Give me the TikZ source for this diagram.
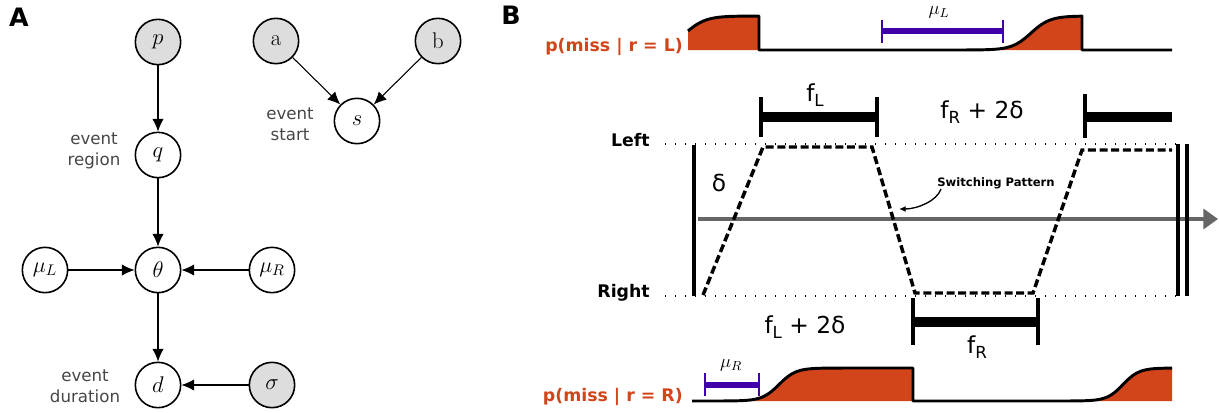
\RequirePackage{fix-cm}
\documentclass[tikz,border=0pt]{standalone}
\usepackage{fontspec}
\usetikzlibrary{arrows.meta}
\newfontfamily\djs{DejaVu Sans}
\definecolor{missorange}{RGB}{210,68,25}
\definecolor{mupurple}{RGB}{64,0,170}
\definecolor{labelgray}{RGB}{70,70,70}
\definecolor{nodegray}{RGB}{221,221,221}
\definecolor{axisgray}{RGB}{102,102,102}
\newcommand{\fsub}[2]{#1\raisebox{-0.22em}{\fontsize{12.5}{12.5}\selectfont #2}}
\tikzset{
  gnode/.style={circle, draw, line width=1.2pt, minimum size=34pt, inner sep=0pt, font=\fontsize{17}{17}\selectfont},
  obs/.style={gnode, fill=nodegray},
  munode/.style={gnode, font=\fontsize{16.5}{17}\selectfont},
  edge/.style={-{Latex[length=9.5pt,width=8.5pt]}, line width=0.8pt},
  annot/.style={font=\djs\fontsize{12.5}{16}\selectfont, text=labelgray, align=center, inner sep=0pt},
  panel/.style={font=\djs\bfseries\fontsize{19}{19}\selectfont, inner sep=0pt},
  misslabel/.style={font=\djs\bfseries\fontsize{13}{13}\selectfont, text=missorange, anchor=east, inner sep=0pt},
  lrlabel/.style={font=\djs\bfseries\fontsize{13}{13}\selectfont, anchor=east, inner sep=0pt},
  flabel/.style={font=\djs\fontsize{17.5}{17.5}\selectfont, inner sep=0pt},
  mulabel/.style={font=\fontsize{14}{14}\selectfont, inner sep=0pt},
  swlabel/.style={font=\djs\bfseries\fontsize{8.7}{9}\selectfont, inner sep=0pt},
  curve/.style={line width=2.2pt, line join=round},
  mubar/.style={draw=mupurple, line width=5pt},
  mutick/.style={draw=mupurple, line width=2pt},
  fbar/.style={line width=7pt},
  ftick/.style={line width=3pt},
  pattern/.style={line width=2.6pt, dash pattern=on 6pt off 2.7pt},
  guide/.style={line width=1pt, dash pattern=on 1pt off 6.5pt},
  wall/.style={line width=3pt},
  swarrow/.style={-{Latex[length=5pt,width=4.5pt]}, line width=1pt},
  declare function={sig(\t,\c,\w)=1/(1+exp(min(9,max(-9,-(\t-\c)/\w))));}
}
\begin{document}
\begin{tikzpicture}[x=0.75pt,y=-0.75pt]
\useasboundingbox (0,0) rectangle (1219,412);

% ---------------- Panel A ----------------
\node[panel] (A) at (19,17) {A};
\node[obs] (p) at (158,42) {$p$};
\node[gnode] (q) at (158,155) {$q$};
\node[gnode] (th) at (158,270) {$\theta$};
\node[gnode] (d) at (158,385) {$d$};
\node[munode] (muL) at (45,270) {$\mu_L$};
\node[munode] (muR) at (272,270) {$\mu_R$};
\node[obs] (sig) at (272,385) {$\sigma$};
\node[obs] (a) at (276,41) {a};
\node[obs] (b) at (438,41) {b};
\node[gnode] (s) at (357,121) {$s$};

\draw[edge] (p) -- (q);
\draw[edge] (q) -- (th);
\draw[edge] (th) -- (d);
\draw[edge] (muL) -- (th);
\draw[edge] (muR) -- (th);
\draw[edge] (sig) -- (d);
\draw[edge] (a) -- (s);
\draw[edge] (b) -- (s);

\node[annot] (lregion) at (94,151) {event\\region};
\node[annot] (lstart) at (290,124) {event\\start};
\node[annot] (ldur) at (85,386) {event\\duration};

% ---------------- Panel B ----------------
\node[panel] (B) at (511,15) {B};

% top curve p(miss | r = L)
\fill[missorange] (688,50) -- plot[domain=688:759,samples=40] (\x,{50-34*sig(\x,685.5,10.2)}) -- (759,50) -- cycle;
\fill[missorange] (940,50) -- plot[domain=940:1082,samples=80] (\x,{50-34*sig(\x,1031,9.5)}) -- (1082,50) -- cycle;
\draw[curve] plot[domain=688:759,samples=40] (\x,{50-34*sig(\x,685.5,10.2)}) -- (759,50)
  -- plot[domain=759:1082,samples=120] (\x,{50-34*sig(\x,1031,9.5)}) -- (1082,50) -- (1172,50);
\node[misslabel] (missL) at (683,47) {p(miss | r = L)};

% mu_L bar
\draw[mubar] (882,31) -- (1003,31);
\draw[mutick] (882,20) -- (882,43);
\draw[mutick] (1003,20) -- (1003,43);
\node[mulabel] (muLlab) at (939,12) {$\mu_L$};

% f bars top
\draw[fbar] (761,117) -- (877,117);
\draw[ftick] (761,97) -- (761,137);
\draw[ftick] (877,97) -- (877,137);
\node[flabel] (fL) at (815,95) {\fsub{f}{L}};
\node[flabel] (fR2d) at (982,112) {\fsub{f}{R} + 2δ};
\draw[fbar] (1085,117) -- (1172,117);
\draw[ftick] (1085,94) -- (1085,138);

% guides
\node[lrlabel] (left) at (650,140) {Left};
\node[lrlabel] (right) at (650,293) {Right};
\draw[guide] (665,144) -- (1180,144);
\draw[guide] (665,296) -- (1180,296);

% time axis
\draw[axisgray, line width=2.6pt, -{Triangle[length=11pt,width=15pt]}] (698,219) -- (1218,219);

% walls
\draw[wall] (694,145) -- (694,296);
\draw[wall] (1178,144) -- (1178,296);
\draw[wall] (1187,144) -- (1187,296);

% switching pattern
\draw[pattern] (703,295) -- (763,147) -- (872,147) -- (915,293) -- (1033,293) -- (1082,150) -- (1172,150);
\node[flabel] (delta) at (719,183) {δ};
\node[swlabel] (sw) at (996,183) {Switching Pattern};
\coordinate (swend) at (899,209);
\draw[swarrow] (941,189) .. controls (937,201) and (917,209) .. (swend);

% bottom f bars
\node[flabel] (fL2d) at (805,327) {\fsub{f}{L} + 2δ};
\draw[fbar] (913,322) -- (1038,322);
\draw[ftick] (913,298) -- (913,345);
\draw[ftick] (1038,298) -- (1038,345);
\node[flabel] (fR) at (977,347) {\fsub{f}{R}};

% bottom curve p(miss | r = R)
\fill[missorange] (700,401) -- plot[domain=700:913,samples=80] (\x,{401-33*sig(\x,779,8.4)}) -- (913,401) -- cycle;
\fill[missorange] (1050,401) -- plot[domain=1050:1172,samples=60] (\x,{401-33*sig(\x,1123,8)}) -- (1172,401) -- cycle;
\draw[curve] plot[domain=692:913,samples=100] (\x,{401-33*sig(\x,779,8.4)}) -- (913,401)
  -- plot[domain=913:1172,samples=100] (\x,{401-33*sig(\x,1123,8)});
\node[misslabel] (missR) at (683,397) {p(miss | r = R)};

% mu_R bar
\draw[mubar] (705,385) -- (759,385);
\draw[mutick] (705,373) -- (705,396);
\draw[mutick] (759,373) -- (759,396);
\node[mulabel] (muRlab) at (731,365) {$\mu_R$};
\end{tikzpicture}
\end{document}
